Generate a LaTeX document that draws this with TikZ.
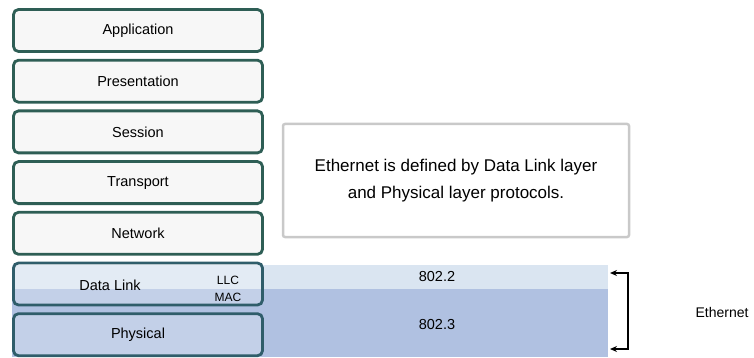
\documentclass[tikz,border=0pt]{standalone}
\usepackage{fontspec}
\setmainfont{Liberation Sans}
\usetikzlibrary{arrows.meta, positioning}
\definecolor{layerline}{HTML}{2E5E55}
\definecolor{bluelayerline}{HTML}{2F5D6A}
\definecolor{llcblue}{HTML}{DAE5F1}
\definecolor{macblue}{HTML}{B0C1E1}
\definecolor{notegray}{HTML}{C9C9C9}

\begin{document}
\begin{tikzpicture}[
    x=1pt, y=-1pt,
    node distance=5.9pt,
    layer/.style={rectangle, draw=layerline, line width=2.8pt, rounded corners=5pt, fill=gray!6, align=center, minimum width=249pt, minimum height=42pt, font=\fontsize{14.5}{16}\selectfont},
    bluelayer/.style={layer, draw=bluelayerline, fill=white, fill opacity=0.25, text opacity=1},
    >={Stealth[length=7pt, width=6pt]}
]
\useasboundingbox (0,0) rectangle (754,358);

% Bands
\fill[llcblue] (12,265) rectangle (608,289);
\fill[macblue] (12,289) rectangle (608,357);

% Layers
\node[layer] (application) at (138,30.5) {Application};
\node[layer] (presentation) [below=of application] {Presentation};
\node[layer] (session) [below=of presentation] {Session};
\node[layer] (transport) [below=of session] {Transport};
\node[layer] (network) [below=of transport] {Network};
\node[bluelayer] (datalink) [below=of network] {};
\node[bluelayer] (physical) [below=of datalink] {Physical};

% Sublayer labels
\node[font=\fontsize{14.5}{16}\selectfont] (dltext) at (110,285) {Data Link};
\node[font=\fontsize{12}{14}\selectfont] (llc) at (228,280) {LLC};
\node[font=\fontsize{12}{14}\selectfont] (mac) at (228,297) {MAC};
\node[font=\fontsize{14.5}{16}\selectfont] (std802two) at (437,277) {802.2};
\node[font=\fontsize{14.5}{16}\selectfont] (std802three) at (437,325) {802.3};

% Note
\node[draw=notegray, line width=2.5pt, rounded corners=2pt, minimum width=346pt, minimum height=113pt, align=center, font=\fontsize{17}{27}\selectfont] (note) at (456,180.5) {Ethernet is defined by Data Link layer\\and Physical layer protocols.};

% Bracket
\coordinate (topend) at (610,273);
\coordinate (bottomend) at (610,349);
\node[font=\fontsize{14}{16}\selectfont] (ethernet) at (722,312) {Ethernet};
\draw[<->, line width=1.4pt] (topend) -- ++(18,0) |- (bottomend);

\end{tikzpicture}
\end{document}
